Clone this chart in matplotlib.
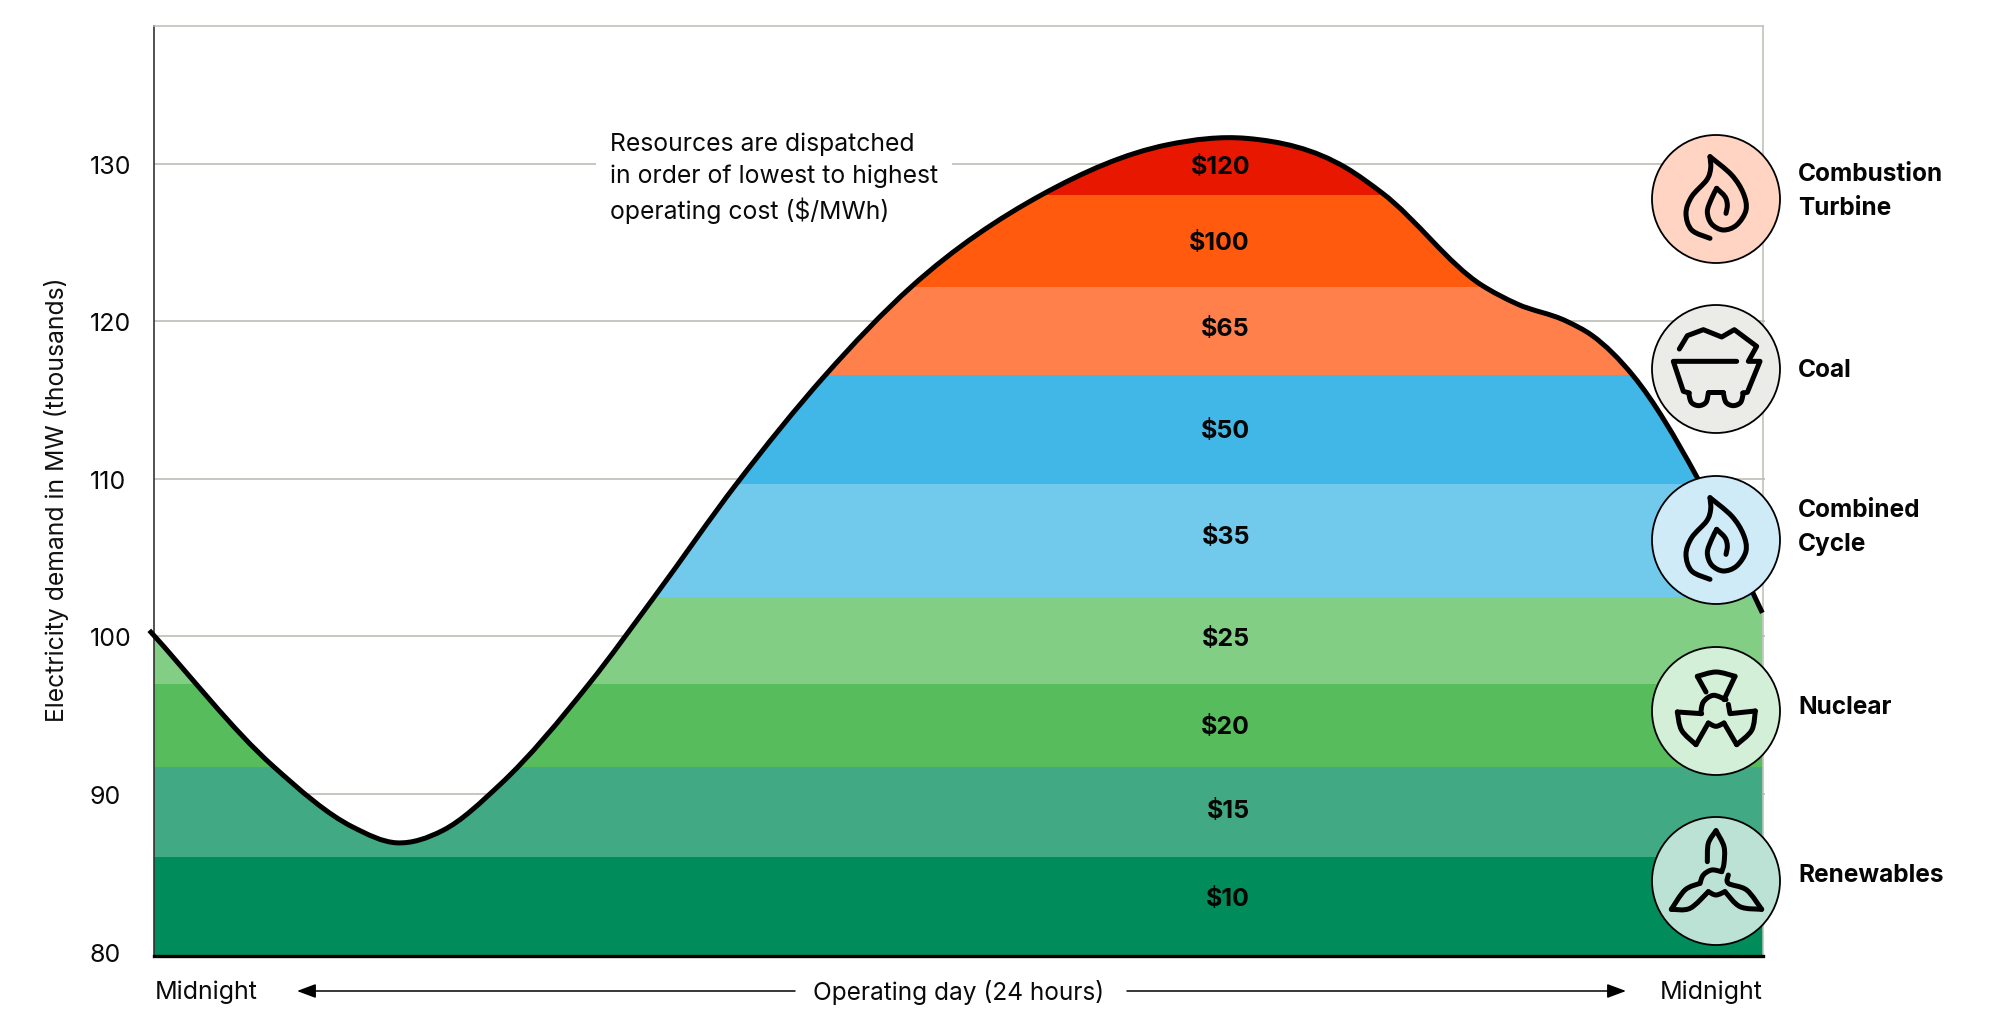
import numpy as np
import matplotlib
matplotlib.use("Agg")
import matplotlib.pyplot as plt
from matplotlib.path import Path
from matplotlib.patches import PathPatch, Circle
from matplotlib.transforms import Affine2D

plt.rcParams['font.family'] = ['Inter', 'DejaVu Sans']

# ---------- data ----------
hours = [-0.07, 1.78, 2.97, 3.62, 4.31, 5.16, 6.49, 7.46, 8.69, 10.01, 11.3, 13.24, 15.11,
         16.3, 17.79, 18.33, 19.8, 20.33, 21.07, 21.45, 22.06, 23.01, 23.99]
demand = [100.39, 91.76, 87.9, 86.91, 87.7, 90.6, 97.0, 102.5, 109.69, 116.56, 122.2,
          128.02, 131.19, 131.6, 129.71, 128.1, 122.3, 121.1, 120.0, 119.1, 116.56, 110.15, 101.5]
band_edges = [79.73, 86.0, 91.7, 97.0, 102.5, 109.69, 116.56, 122.2, 128.02, 133.0]
band_colors = ['#008C5B', '#41A984', '#57BC5C', '#82CE85', '#71C9EC', '#40B7E6',
               '#FF804B', '#FF5A0E', '#E81700']
cost_labels = ['$10', '$15', '$20', '$25', '$35', '$50', '$65', '$100', '$120']
cost_y = [899, 812, 727, 639, 538, 431, 330, 243, 168]
y_ticks = [80, 90, 100, 110, 120, 130]
resources = ['Combustion\nTurbine', 'Coal', 'Combined\nCycle', 'Nuclear', 'Renewables']
circle_y = [199, 369, 540, 711, 881]
circle_fill = ['#FFD4C3', '#EBECE8', '#CFEBF8', '#D4EFD7', '#BCE2D6']

W, H = 2000, 1025
L, R, B, T = 154, 1763, 956, 26

fig = plt.figure(figsize=(W / 100, H / 100), dpi=100, facecolor='white')
ax = fig.add_axes([L / W, 1 - B / H, (R - L) / W, (B - T) / H])
ax.set_xlim(0, 24)
ax.set_ylim(79.73, 138.73)
ax.set_xticks([])
ax.set_yticks(y_ticks)
ax.tick_params(axis='y', length=0, pad=46.5, labelsize=18, labelcolor='#0a0a0a')
for lab in ax.get_yticklabels():
    lab.set_horizontalalignment('left')
    lab.set_transform(lab.get_transform() + Affine2D().translate(0, -1))
ax.set_ylabel('Electricity demand in MW (thousands)', fontsize=17.8, color='#111111', va='center')
ax.yaxis.set_label_coords((57 - L) / (R - L), (B - 500) / (B - T))

ax.spines['left'].set_color('#333333')
ax.spines['left'].set_linewidth(1.2)
ax.spines['bottom'].set_color('#000000')
ax.spines['bottom'].set_linewidth(2.4)
ax.spines['top'].set_color('#BDBDB7')
ax.spines['top'].set_linewidth(1.1)
ax.spines['right'].set_color('#BDBDB7')
ax.spines['right'].set_linewidth(1.1)

ax.hlines(y_ticks[1:], 0, 24.03, colors='#BDBDB7', linewidth=1.2, zorder=1, clip_on=False)


def hermite_path(x, y):
    x = np.asarray(x, float)
    y = np.asarray(y, float)
    m = np.gradient(y, x)
    verts = [(x[0], y[0])]
    codes = [Path.MOVETO]
    for i in range(len(x) - 1):
        d = (x[i + 1] - x[i]) / 3
        verts += [(x[i] + d, y[i] + d * m[i]), (x[i + 1] - d, y[i + 1] - d * m[i + 1]), (x[i + 1], y[i + 1])]
        codes += [Path.CURVE4] * 3
    return verts, codes


verts, codes = hermite_path(hours, demand)
area = Path(verts + [(24, 79), (-0.07, 79), verts[0]], codes + [Path.LINETO, Path.LINETO, Path.CLOSEPOLY])
area_patch = PathPatch(area, fc='none', ec='none', transform=ax.transData)
ax.add_patch(area_patch)

bars = ax.barh(band_edges[:-1], 24, height=np.diff(band_edges), left=0, align='edge',
               color=band_colors, linewidth=0, zorder=2)
for rect in bars:
    rect.set_clip_path(area_patch)

ax.add_patch(PathPatch(Path(verts, codes), fc='none', ec='black', lw=3.6, zorder=3,
                       clip_on=False, capstyle='butt', joinstyle='round'))

# ---------- overlay in pixel space ----------
ov = fig.add_axes([0, 0, 1, 1], facecolor='none')
ov.set_xlim(0, W)
ov.set_ylim(H, 0)
ov.axis('off')

for s, y in zip(cost_labels, cost_y):
    ov.text(1250, y, s, ha='right', va='center', fontsize=18, fontweight='bold', color='#060606')

ov.text(610, 178, 'Resources are dispatched\nin order of lowest to highest\noperating cost ($/MWh)',
        ha='left', va='center', fontsize=17.8, color='#0a0a0a', linespacing=1.46,
        bbox=dict(fc='white', ec='none', pad=10))

ov.text(155, 992.5, 'Midnight', ha='left', va='center', fontsize=18, color='#0a0a0a')
ov.text(R, 992.5, 'Midnight', ha='right', va='center', fontsize=18, color='#0a0a0a')
ov.text(958.5, 992.5, 'Operating day (24 hours)', ha='center', va='center', fontsize=17.6, color='#0a0a0a')
arrow = dict(arrowstyle='-|>,head_length=11.5,head_width=4.3', mutation_scale=1, color='black',
             lw=1.1, shrinkA=0, shrinkB=0)
ov.annotate('', xy=(297, 991), xytext=(795, 991), arrowprops=arrow)
ov.annotate('', xy=(1626, 991), xytext=(1127, 991), arrowprops=arrow)


def smooth(points):
    p = np.asarray(points, float) / 3
    v = [tuple(p[0])]
    c = [Path.MOVETO]
    n = len(p)
    for i in range(n - 1):
        a = p[max(i - 1, 0)]
        d = p[min(i + 2, n - 1)]
        v += [tuple(p[i] + (p[i + 1] - a) / 6), tuple(p[i + 1] - (d - p[i]) / 6), tuple(p[i + 1])]
        c += [Path.CURVE4] * 3
    return Path(v, c)


def poly(points):
    return Path(np.asarray(points, float) / 3)


def shift(points, cx, cy):
    return [(x - cx, y - cy) for x, y in points]


flame = [
    smooth(shift([(330, 415), (275, 390), (258, 340), (275, 290), (320, 240), (332, 205), (330, 170)], 348, 297)),
    smooth(shift([(330, 170), (395, 225), (430, 280), (438, 330), (410, 375), (370, 390), (335, 372),
                  (322, 335), (335, 295), (350, 265)], 348, 297)),
    smooth(shift([(350, 265), (375, 290), (382, 315), (378, 340)], 348, 297)),
]
coal = [
    poly(shift([(238, 748), (262, 708), (310, 690), (365, 712), (403, 690), (470, 740), (445, 785),
                (480, 785), (442, 878), (428, 880)], 348, 808)),
    smooth(shift([(430, 880), (422, 908), (400, 918), (378, 908), (370, 880)], 348, 808)),
    poly(shift([(370, 878), (325, 878)], 348, 808)),
    smooth(shift([(325, 880), (318, 908), (296, 918), (274, 908), (266, 880)], 348, 808)),
    poly(shift([(268, 880), (250, 875), (220, 785), (410, 785)], 348, 808)),
]
nuclear = [
    poly(shift([(318, 275), (292, 228)], 348, 332)),
    smooth(shift([(292, 228), (348, 215), (405, 228)], 348, 332)),
    poly(shift([(405, 228), (372, 298)], 348, 332)),
    smooth(shift([(378, 298), (340, 285), (310, 305), (302, 340)], 348, 332)),
    poly(shift([(305, 340), (232, 335)], 348, 332)),
    smooth(shift([(232, 335), (245, 390), (288, 433)], 348, 332)),
    poly(shift([(288, 433), (325, 368)], 348, 332)),
    smooth(shift([(325, 368), (348, 378), (372, 368)], 348, 332)),
    poly(shift([(372, 368), (410, 433)], 348, 332)),
    smooth(shift([(410, 433), (455, 390), (466, 332)], 348, 332)),
    poly(shift([(466, 332), (390, 340), (385, 312)], 348, 332)),
]
turbine = [
    smooth(shift([(322, 785), (325, 730), (348, 692)], 348, 843)),
    smooth(shift([(348, 692), (372, 740), (372, 790), (365, 815)], 348, 843)),
    smooth(shift([(365, 815), (335, 810), (310, 825), (300, 850)], 348, 843)),
    smooth(shift([(300, 850), (255, 870), (214, 928)], 348, 843)),
    smooth(shift([(214, 928), (270, 925), (325, 875)], 348, 843)),
    smooth(shift([(325, 875), (348, 885), (375, 875)], 348, 843)),
    smooth(shift([(375, 875), (420, 920), (485, 928)], 348, 843)),
    smooth(shift([(485, 928), (440, 870), (385, 850), (385, 825)], 348, 843)),
]
icons = [flame, coal, flame, nuclear, turbine]

for name, cy, fill, icon in zip(resources, circle_y, circle_fill, icons):
    ov.add_patch(Circle((1716, cy), 64, fc=fill, ec='black', lw=1.3, zorder=5))
    for p in icon:
        v = p.vertices + np.array([1716, cy])
        ov.add_patch(PathPatch(Path(v, p.codes), fc='none', ec='black', lw=3.6, zorder=6,
                               capstyle='round', joinstyle='round'))

label_y = [(174.5, 208.5), (370.5,), (510.5, 544.5), (707.5,), (875.5,)]
for name, ys in zip(resources, label_y):
    for line, y in zip(name.split('\n'), ys):
        ov.text(1798, y, line, ha='left', va='center', fontsize=17.6, fontweight='bold', color='#060606')

fig.savefig('out.png', dpi=100)
